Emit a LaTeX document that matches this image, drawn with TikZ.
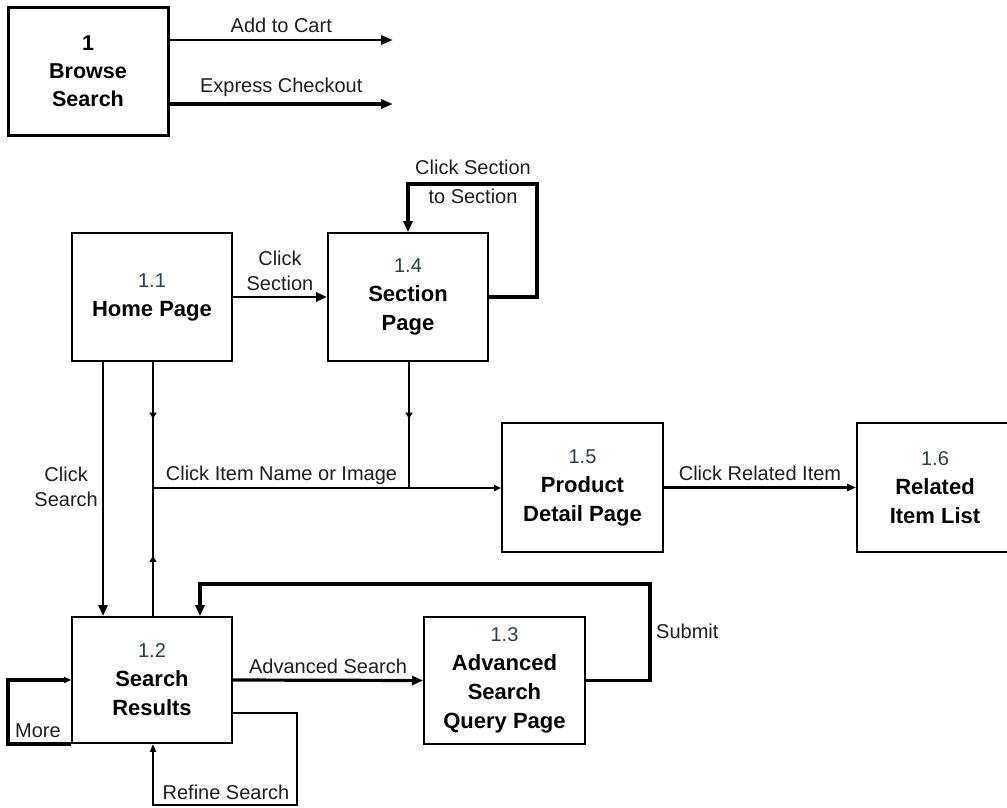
\documentclass[tikz,border=0pt]{standalone}
\usepackage{fontspec}
\setmainfont{Liberation Sans}
\usetikzlibrary{arrows.meta,decorations.markings}

\definecolor{numcol}{RGB}{45,62,72}
\definecolor{labcol}{RGB}{30,30,30}

\tikzset{
  proc/.style={draw, line width=1.8pt, minimum width=160pt, minimum height=128pt,
    inner sep=0pt, align=center, font=\fontsize{22}{29}\selectfont},
  conn/.style={line width=2.8pt, draw=black},
  loopline/.style={line width=3.4pt, draw=black},
  bigtip/.style={-{Triangle[length=11pt,width=9pt]}},
  smalltip/.style={-{Triangle[length=7pt,width=6pt]}},
  lab/.style={font=\fontsize{20}{25}\selectfont, text=labcol, inner sep=0pt, align=center},
  midarrow/.style={postaction={decorate}, decoration={markings,
    mark=at position #1 with {\arrow{Triangle[length=6pt,width=7pt]}}}}
}
\newcommand{\procnum}[1]{{\fontsize{20}{29}\selectfont\color{numcol}#1}}
\newcommand{\proctitle}[1]{{\bfseries #1}}

\begin{document}
\begin{tikzpicture}[x=1pt,y=-1pt]
\clip (0,0) rectangle (1007,807);

% process boxes
\node[proc, line width=3pt, font=\fontsize{21.5}{28}\selectfont\bfseries] (b) at (88,71)
  {1\\Browse\\Search};
\node[proc] (h)  at (152,297) {\procnum{1.1}\\\proctitle{Home Page}};
\node[proc] (s)  at (408,297) {\procnum{1.4}\\\proctitle{Section}\\\proctitle{Page}};
\node[proc, minimum width=161pt, minimum height=129pt] (p) at (582.5,487.5)
  {\procnum{1.5}\\\proctitle{Product}\\\proctitle{Detail Page}};
\node[proc, minimum width=156pt, minimum height=129pt] (r) at (935,487.5)
  {\procnum{1.6}\\\proctitle{Related}\\\proctitle{Item List}};
\node[proc, minimum height=126pt] (sr) at (152,680) {\procnum{1.2}\\\proctitle{Search}\\\proctitle{Results}};
\node[proc, minimum width=161pt, minimum height=127pt] (aq) at (504.5,680.5)
  {\procnum{1.3}\\\proctitle{Advanced}\\\proctitle{Search}\\\proctitle{Query Page}};

% outgoing flows of the top-level process
\coordinate (cart) at (393,40);
\coordinate (exp)  at (393,104);
\draw[conn, -{Triangle[length=12pt,width=9pt]}] (b.east |- cart) -- (cart)
  node[lab, midway, above=6pt] {Add to Cart};
\draw[conn, line width=3.4pt, -{Triangle[length=12pt,width=9pt]}] (b.east |- exp) -- (exp)
  node[lab, midway, above=6pt] {Express Checkout};

% home -> section
\draw[conn, bigtip] (h.east) -- (s.west)
  node[lab, midway, above=5pt] {Click\\Section};

% section to section loop
\coordinate (sl) at (537,184);
\draw[loopline, bigtip] (s.east) -| (sl) -| (s.north);
\node[lab, font=\fontsize{20}{29}\selectfont] (sllab) at (473,182) {Click Section\\to Section};

% home -> search results
\coordinate (csx) at (103,0);
\draw[conn, bigtip] (h.south -| csx) -- (sr.north -| csx);
\node[lab, anchor=east] (cslab) at (98,487) {Click\\Search};

% links into the product detail page
\coordinate (jx) at (153,0);
\coordinate (jn) at (153,488);
\coordinate (js) at (409,488);
\draw[conn, midarrow=0.45] (h.south -| jx) -- (jn);
\draw[conn, midarrow=0.45] (s.south -| js) -- (js);
\draw[conn, midarrow=0.47] (sr.north -| jx) -- (jn);
\draw[conn, smalltip] (jn) -- (jn -| p.west);
\node[lab] (cilab) at (281.5,475) {Click Item Name or Image};

% product -> related items
\draw[conn, -{Triangle[length=9pt,width=7pt]}] (p.east) -- (r.west)
  node[lab, midway, above=5pt] {Click Related Item};

% search results -> advanced search
\draw[conn, line width=3.2pt, bigtip] (sr.east) -- (aq.west)
  node[lab, midway, above=5pt] {Advanced Search};

% advanced search submit back to results
\coordinate (sub) at (650,584);
\coordinate (subx) at (200,0);
\draw[loopline, bigtip] (aq.east) -| (sub) -| (sr.north -| subx);
\node[lab, anchor=west] (sublab) at (656,631) {Submit};

% more results loop
\coordinate (more) at (8,680);
\draw[loopline, smalltip] (sr.south west) -| (more) -- (sr.west);
\node[lab] (morelab) at (38,731) {More};

% refine search loop
\coordinate (rf1) at (297,805);
\coordinate (rfx) at (153,0);
\draw[conn, -{Triangle[length=8pt,width=6pt]}] ([yshift=-33pt]sr.east) -| (rf1) -| (sr.south -| rfx);
\node[lab] (rflab) at (226,792) {Refine Search};
\end{tikzpicture}
\end{document}
